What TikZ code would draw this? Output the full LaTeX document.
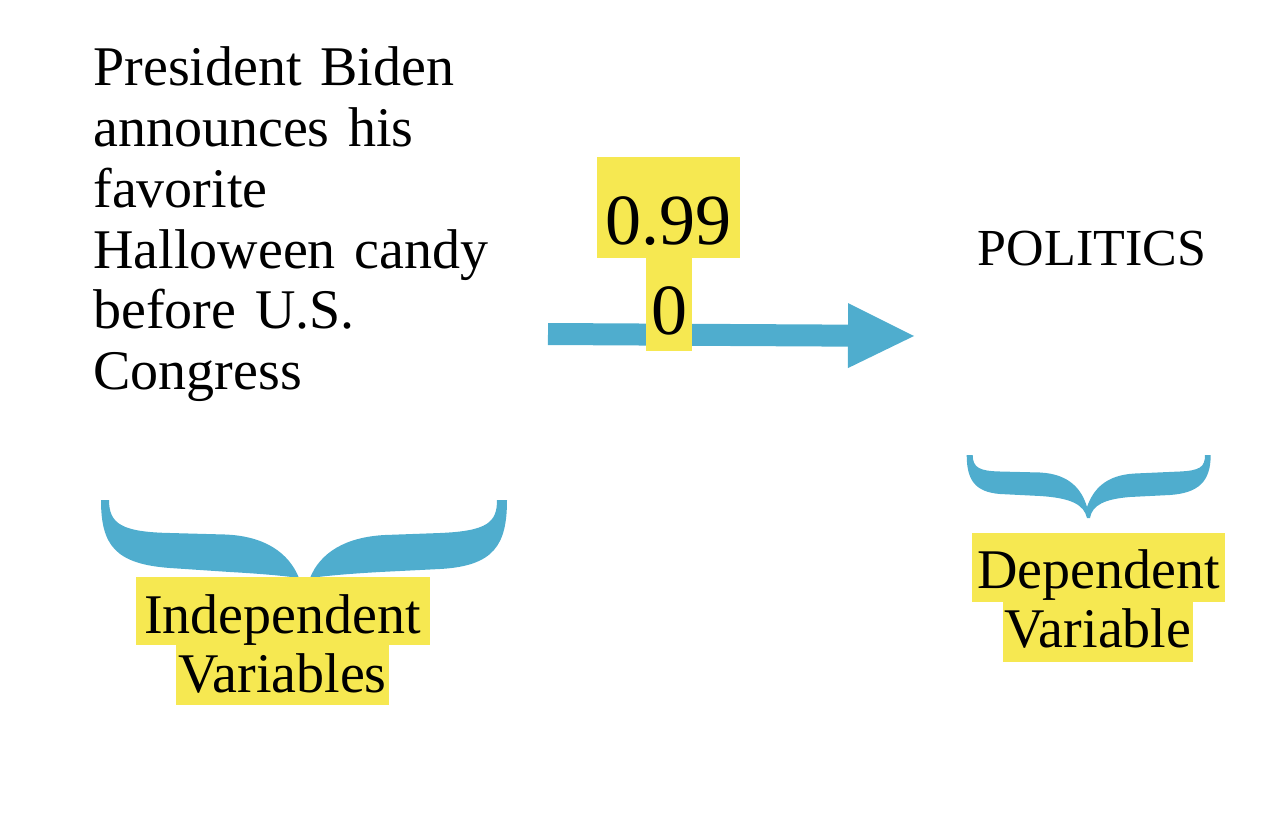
\documentclass[tikz,border=0pt]{standalone}
\usepackage{fontspec}
\setmainfont{Liberation Serif}
\usepackage{tikz}
\usetikzlibrary{positioning, arrows.meta}
\usepackage{xcolor}
\definecolor{bracecol}{RGB}{79,173,206}
\definecolor{hlyellow}{RGB}{246,232,81}

\begin{document}
\begin{tikzpicture}[x=0.5pt, y=-0.5pt,
    hl/.style={fill=hlyellow, inner sep=0pt, anchor=base},
    arrowline/.style={bracecol, line width=11pt,
      -{Triangle[length=33pt, width=32.5pt, line width=0pt]}}]

    \useasboundingbox (0,0) rectangle (1270,830);

    % ---------- big brace under the claim ----------
    \fill[bracecol]
      (101,500) -- (109,500) .. controls (109,524) and (122,532) .. (170,533)
      -- (225,534.5) .. controls (265,536) and (289,553) .. (299,578)
      .. controls (285,576) and (265,574) .. (230,572) -- (170,568)
      .. controls (115,564) and (101,545) .. (101,500) -- cycle
      (507,500) -- (497,500) .. controls (497,522) and (488,531) .. (440,533)
      -- (385,535) .. controls (345,537) and (320,553) .. (310,578)
      .. controls (325,576) and (345,574) .. (380,572) -- (440,569)
      .. controls (494,566) and (507,545) .. (507,500) -- cycle;

    % ---------- small brace under POLITICS ----------
    \fill[bracecol]
      (966.7,455) -- (972.7,455) .. controls (972.7,468) and (980,471) .. (1000,471.5)
      -- (1040,472.5) .. controls (1070,474) and (1082,490) .. (1087,507)
      .. controls (1093,490) and (1105,475) .. (1135,473.5) -- (1180,471.5)
      .. controls (1200,470.5) and (1205,467) .. (1205,455) -- (1210.7,455)
      .. controls (1210.7,482) and (1198,493) .. (1170,495) -- (1130,497)
      .. controls (1105,499) and (1092,505) .. (1090,518) -- (1087,518)
      .. controls (1084,505) and (1072,498) .. (1040,496) -- (1000,494)
      .. controls (975,492) and (966.7,480) .. (966.7,455) -- cycle;

    % ---------- arrow ----------
    \coordinate (arrowstart) at (548,334);
    \coordinate (arrowend) at (914,336);
    \draw[arrowline] (arrowstart) -- (arrowend);

    % ---------- texts ----------
    \node[anchor=base west, inner sep=0pt, text width=240pt, align=left,
          font=\fontsize{28}{30.5}\selectfont] (claim) at (93,85)
      {President Biden\\ announces his\\ favorite\\ Halloween candy\\
       before U.S.\\ Congress};
    \node[anchor=base, inner sep=0pt, font=\fontsize{26}{30}\selectfont]
      (politics) at (1092,265) {POLITICS};

    % ---------- highlighted value ----------
    \node[hl, minimum width=71.5pt, text height=43.5pt, text depth=7pt,
          font=\fontsize{36}{40}\selectfont] (rvalue) at (668.5,244) {0.99};
    \node[hl, minimum width=23pt, text height=38pt, text depth=8.5pt,
          font=\fontsize{36}{40}\selectfont] (rvaluetail) at (669,334) {0};

    % ---------- highlighted captions ----------
    \node[hl, minimum width=147pt, text height=28pt, text depth=6pt,
          font=\fontsize{28}{30}\selectfont] (indep) at (282.5,633) {Independent};
    \node[hl, minimum width=106.5pt, text height=23.5pt, text depth=6.5pt,
          font=\fontsize{28}{30}\selectfont] (indepb) at (282.5,692) {Variables};
    \node[hl, minimum width=126.7pt, text height=27.5pt, text depth=7pt,
          font=\fontsize{28}{30}\selectfont] (dep) at (1098.5,588) {Dependent};
    \node[hl, minimum width=95pt, text height=22.5pt, text depth=7.5pt,
          font=\fontsize{28}{30}\selectfont] (depb) at (1098,647) {Variable};

  \end{tikzpicture}
\end{document}
